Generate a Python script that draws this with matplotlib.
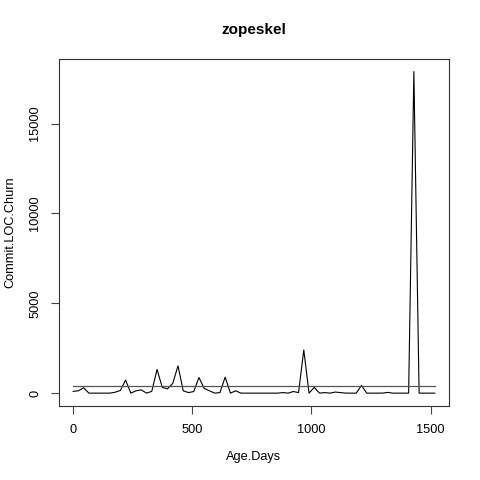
import numpy as np
import matplotlib
matplotlib.use("Agg")
import matplotlib.pyplot as plt

plt.rcParams['font.family'] = ['Liberation Sans', 'DejaVu Sans']

title = "zopeskel"
x_label = "Age.Days"
y_label = "Commit.LOC.Churn"

age_days = [22 * i for i in range(70)]
churn = [100, 130, 300, 0, 0, 0, 0, 0, 50, 150,
         725, 0, 130, 180, 0, 100, 1320, 320, 240, 540,
         1520, 130, 30, 90, 870, 260, 130, 0, 30, 890,
         0, 130, 0, 0, 0, 0, 0, 0, 0, 0,
         30, 0, 90, 30, 2400, 0, 320, 0, 30, 0,
         60, 30, 0, 0, 0, 430, 0, 0, 0, 0,
         40, 0, 0, 0, 0, 17900, 0, 0, 0, 0]
x_ticks = [0, 500, 1000, 1500]
y_ticks = [0, 5000, 10000, 15000]

mean_val = float(np.mean(churn))

fig = plt.figure(figsize=(4.8, 4.8), dpi=100)
L, R, T, B = 58.7, 449.3, 58.7, 406.0
ax = fig.add_axes([L / 480, 1 - B / 480, (R - L) / 480, (B - T) / 480])
W, H = R - L, B - T

ax.plot(age_days, churn, color='black', lw=0.8)
ax.plot([age_days[0], age_days[-1]], [mean_val, mean_val], color='#555555', lw=0.9)

xr = age_days[-1] - age_days[0]
ax.set_xlim(age_days[0] - 0.04 * xr, age_days[-1] + 0.04 * xr)
yr = max(churn) - min(churn)
ax.set_ylim(min(churn) - 0.04 * yr, max(churn) + 0.04 * yr)

ax.set_xticks(x_ticks)
ax.set_xticklabels([str(t) for t in x_ticks])
ax.set_yticks(y_ticks)
ax.set_yticklabels([str(t) for t in y_ticks], rotation=90, va='center')

for s in ax.spines.values():
    s.set_color('#333333')
    s.set_linewidth(0.8)
ax.tick_params(direction='out', length=5.5, width=0.8, colors='#444444',
               labelcolor='black', labelsize=9.2)
ax.tick_params(axis='x', pad=7.5)
ax.tick_params(axis='y', pad=7)

ax.set_xlabel(x_label, fontsize=9.2)
ax.set_ylabel(y_label, fontsize=9.2)
ax.xaxis.set_label_coords(0.5, (B - 457) / H)
ax.yaxis.set_label_coords((10 - L) / W, 0.5)
ax.xaxis.label.set_va('center')
ax.yaxis.label.set_va('center')
ax.text(0.5, (B - 30) / H, title, transform=ax.transAxes, ha='center', va='center',
        fontsize=11, fontweight='bold')

fig.savefig("out.png", dpi=100, facecolor='white')
